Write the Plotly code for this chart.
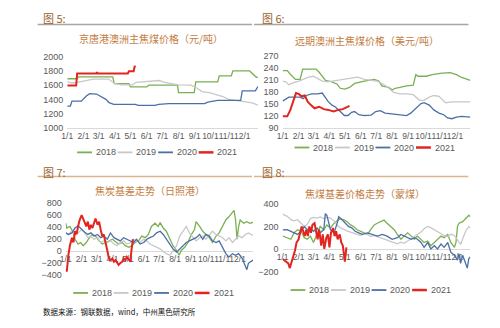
import plotly.graph_objects as go

# ---------------- data ----------------
YEAR = "2020"  # reference year used only to place month/day on a common axis
tick_dates = ["01-01", "02-01", "03-01", "04-01", "05-01", "06-01",
              "07-01", "08-01", "09-01", "10-01", "11-01", "12-01"]
tick_labels = ["1/1", "2/1", "3/1", "4/1", "5/1", "6/1",
               "7/1", "8/1", "9/1", "10/1", "11/1", "12/1"]

series_names = ["2018", "2019", "2020", "2021"]
series_colors = ["#7aaf52", "#c8c8c8", "#4c6fa6", "#e3241f"]
series_widths = [1.3, 1.3, 1.3, 2.0]

fig_labels = ["图 5:", "图 6:", "图 7:", "图 8:"]
panel_titles = ["京唐港澳洲主焦煤价格（元/吨）", "远期澳洲主焦煤价格（美元/吨）",
                "焦炭基差走势（日照港）", "焦煤基差价格走势（蒙煤）"]
footer_text = "数据来源：钢联数据，wind，中州黑色研究所"

# 图5 京唐港澳洲主焦煤价格
p5_2018 = [("01-01", 1690), ("01-20", 1690), ("01-22", 1715), ("03-28", 1715), ("03-31", 1620),
           ("04-28", 1620), ("05-01", 1575), ("06-01", 1575), ("06-05", 1600), ("07-30", 1600),
           ("08-01", 1495), ("08-31", 1495), ("09-03", 1645), ("10-15", 1645), ("10-18", 1730),
           ("11-10", 1730), ("11-13", 1800), ("12-15", 1800), ("12-28", 1710), ("12-31", 1710)]
p5_2019 = [("01-01", 1650), ("01-10", 1630), ("01-20", 1640), ("02-01", 1660), ("02-10", 1670),
           ("02-20", 1685), ("03-20", 1685), ("04-01", 1620), ("04-15", 1605), ("05-05", 1605),
           ("05-12", 1640), ("05-31", 1650), ("06-10", 1665), ("06-25", 1665), ("07-05", 1640),
           ("07-20", 1615), ("08-01", 1605), ("08-25", 1600), ("09-05", 1560), ("09-15", 1510),
           ("10-01", 1490), ("10-15", 1460), ("10-25", 1440), ("11-05", 1400), ("11-20", 1385),
           ("12-05", 1375), ("12-20", 1350), ("12-31", 1320)]
p5_2020 = [("01-01", 1305), ("01-07", 1305), ("01-10", 1375), ("01-28", 1375), ("02-07", 1450),
           ("02-13", 1480), ("02-26", 1475), ("03-06", 1435), ("03-15", 1400), ("03-21", 1355),
           ("03-30", 1330), ("05-10", 1330), ("05-16", 1315), ("06-17", 1315), ("06-24", 1330),
           ("07-13", 1340), ("09-20", 1340), ("09-26", 1360), ("10-15", 1385), ("11-28", 1385),
           ("12-01", 1520), ("12-26", 1520), ("12-31", 1580)]
p5_2021 = [("01-01", 1595), ("01-18", 1595), ("01-20", 1765), ("02-26", 1765), ("02-27", 1785),
           ("02-28", 1765), ("04-26", 1765), ("04-28", 1795), ("05-07", 1795), ("05-09", 1860),
           ("05-11", 1865)]

# 图6 远期澳洲主焦煤价格
p6_2018 = [("01-01", 232), ("01-10", 232), ("01-16", 223), ("01-26", 210), ("02-04", 210),
           ("02-09", 236), ("03-06", 236), ("03-12", 228), ("03-24", 208), ("04-06", 204),
           ("04-16", 198), ("04-22", 188), ("05-01", 186), ("05-10", 190), ("05-20", 200),
           ("06-08", 206), ("06-27", 210), ("07-06", 206), ("07-12", 194), ("07-25", 190),
           ("08-01", 184), ("08-07", 188), ("08-16", 190), ("08-29", 194), ("09-11", 196),
           ("09-16", 222), ("09-20", 218), ("10-06", 218), ("10-18", 222), ("11-06", 226),
           ("11-22", 227), ("12-04", 222), ("12-14", 215), ("12-31", 208)]
p6_2019 = [("01-01", 206), ("01-07", 204), ("01-13", 197), ("01-22", 202), ("02-02", 206),
           ("02-11", 210), ("02-20", 216), ("03-01", 218), ("03-09", 212), ("03-18", 206),
           ("03-28", 204), ("04-06", 206), ("04-19", 208), ("05-01", 212), ("05-14", 214),
           ("05-26", 216), ("06-08", 210), ("06-21", 208), ("07-03", 206), ("07-12", 200),
           ("07-22", 192), ("08-04", 178), ("08-16", 174), ("08-29", 174), ("09-11", 172),
           ("09-23", 158), ("10-02", 158), ("10-12", 166), ("10-21", 170), ("10-31", 168),
           ("11-13", 152), ("11-25", 154), ("12-07", 154), ("12-31", 154)]
p6_2020 = [("01-01", 156), ("01-07", 160), ("01-13", 166), ("01-26", 166), ("02-04", 166),
           ("02-10", 162), ("02-16", 170), ("02-26", 174), ("03-09", 174), ("03-18", 176),
           ("03-24", 166), ("03-30", 154), ("04-06", 146), ("04-12", 142), ("04-19", 134),
           ("04-25", 126), ("04-30", 120), ("05-07", 120), ("05-14", 128), ("05-20", 130),
           ("05-28", 122), ("06-08", 120), ("06-21", 121), ("06-30", 130), ("07-09", 132),
           ("07-18", 126), ("08-04", 124), ("08-16", 122), ("08-29", 120), ("09-06", 126),
           ("09-16", 138), ("09-26", 150), ("10-02", 152), ("10-12", 146), ("10-21", 134),
           ("10-31", 126), ("11-09", 122), ("11-17", 114), ("11-25", 112), ("12-04", 116),
           ("12-14", 118), ("12-31", 116)]
p6_2021 = [("01-01", 118), ("01-10", 118), ("01-16", 134), ("01-22", 158), ("01-27", 176),
           ("02-01", 174), ("02-07", 168), ("02-13", 170), ("02-19", 154), ("02-25", 146),
           ("03-03", 138), ("03-12", 142), ("03-21", 136), ("03-30", 134), ("04-09", 130),
           ("04-18", 134), ("04-27", 136), ("05-07", 142), ("05-10", 144)]

# 图7 焦炭基差走势（日照港）
p7_2018 = [("01-01", 453), ("01-03", 373), ("01-09", 400), ("01-16", 293), ("01-19", 187),
           ("01-25", 107), ("01-30", 133), ("02-04", 80), ("02-10", 133), ("02-16", 213),
           ("02-22", 267), ("02-28", 240), ("03-06", 160), ("03-12", 107), ("03-19", 133),
           ("03-25", 160), ("04-01", 187), ("04-07", 144), ("04-13", 107), ("04-20", 133),
           ("04-26", 80), ("05-03", 53), ("05-09", 80), ("05-15", 133), ("05-22", 160),
           ("05-28", 240), ("06-04", 213), ("06-10", 267), ("06-16", 400), ("06-23", 453),
           ("06-29", 400), ("07-03", 464), ("07-09", 373), ("07-15", 320), ("07-22", 187),
           ("07-28", 80), ("08-04", 0), ("08-09", -80), ("08-13", 0), ("08-20", 53),
           ("08-26", 133), ("09-02", 267), ("09-08", 347), ("09-11", 480), ("09-18", 400),
           ("09-24", 320), ("09-30", 267), ("10-07", 213), ("10-13", 133), ("10-20", 240),
           ("10-26", 293), ("11-02", 400), ("11-08", 507), ("11-14", 560), ("11-21", 640),
           ("11-24", 667), ("11-27", 507), ("11-30", 187), ("12-03", 400), ("12-06", 507),
           ("12-13", 453), ("12-19", 480), ("12-25", 453), ("12-31", 470)]
p7_2019 = [("01-01", 293), ("01-06", 267), ("01-13", 320), ("01-19", 267), ("01-25", 293),
           ("02-01", 347), ("02-07", 293), ("02-13", 213), ("02-19", 240), ("02-25", 187),
           ("03-03", 213), ("03-09", 133), ("03-15", 160), ("03-22", 133), ("03-28", 160),
           ("04-04", 107), ("04-10", 80), ("04-16", 133), ("04-23", 160), ("04-29", 107),
           ("05-06", 133), ("05-12", 187), ("05-18", 160), ("05-25", 133), ("06-01", 187),
           ("06-07", 160), ("06-13", 107), ("06-20", 80), ("06-26", 53), ("07-03", 27),
           ("07-09", -16), ("07-15", -53), ("07-22", -80), ("07-28", 0), ("08-04", 80),
           ("08-10", 240), ("08-16", 320), ("08-23", 400), ("08-29", 293), ("09-05", 213),
           ("09-11", 160), ("09-18", 213), ("09-24", 240), ("09-30", 187), ("10-07", 267),
           ("10-13", 320), ("10-20", 267), ("10-26", 240), ("11-02", 213), ("11-08", 160),
           ("11-14", 213), ("11-21", 133), ("11-27", 187), ("12-03", 240), ("12-10", 213),
           ("12-16", 267), ("12-22", 293), ("12-31", 250)]
p7_2020 = [("01-01", 293), ("01-06", 267), ("01-13", 293), ("01-19", 373), ("01-25", 410),
           ("02-01", 347), ("02-07", 304), ("02-13", 267), ("02-19", 293), ("02-25", 240),
           ("03-03", 267), ("03-09", 213), ("03-15", 240), ("03-22", 187), ("03-28", 293),
           ("04-04", 213), ("04-10", 187), ("04-16", 160), ("04-23", 213), ("04-29", 187),
           ("05-06", 160), ("05-12", 133), ("05-18", 187), ("05-25", 107), ("06-01", 133),
           ("06-07", 187), ("06-13", 213), ("06-20", 240), ("06-26", 293), ("07-03", 320),
           ("07-09", 267), ("07-15", 187), ("07-22", 107), ("07-28", 27), ("08-04", -27),
           ("08-10", 27), ("08-16", 80), ("08-23", 133), ("08-29", 160), ("09-05", 187),
           ("09-11", 213), ("09-18", 267), ("09-24", 187), ("09-30", 267), ("10-07", 240),
           ("10-13", 160), ("10-20", 133), ("10-26", 160), ("11-02", 53), ("11-08", -53),
           ("11-14", -107), ("11-21", -53), ("11-27", -80), ("12-03", -53), ("12-10", -133),
           ("12-13", -187), ("12-19", -320), ("12-22", -213), ("12-31", -160)]
p7_2021 = [("01-01", -320), ("01-03", -347), ("01-06", -80), ("01-09", 80), ("01-13", 213),
           ("01-16", 133), ("01-19", 320), ("01-22", 267), ("01-25", 400), ("01-28", 507),
           ("02-01", 587), ("02-04", 533), ("02-07", 453), ("02-10", 400), ("02-13", 480),
           ("02-16", 347), ("02-19", 427), ("02-22", 373), ("02-25", 453), ("02-28", 533),
           ("03-03", 427), ("03-06", 480), ("03-09", 347), ("03-12", 240), ("03-15", 267),
           ("03-19", 133), ("03-22", 0), ("03-25", -133), ("03-28", -160), ("04-01", -133),
           ("04-04", -187), ("04-07", -160), ("04-10", -213), ("04-13", -240), ("04-16", -213),
           ("04-20", -187), ("04-23", -133), ("04-26", -160), ("04-29", -107), ("05-03", -160),
           ("05-06", -187), ("05-08", 0), ("05-11", 187)]

# 图8 焦煤基差价格走势（蒙煤）
p8_2018 = [("01-01", 115), ("01-10", 100), ("01-17", 86), ("01-23", 143), ("01-30", 171),
           ("02-06", 157), ("02-12", 100), ("02-18", 86), ("02-24", 114), ("03-01", 57),
           ("03-08", 143), ("03-14", 200), ("03-21", 171), ("03-27", 214), ("04-03", 186),
           ("04-10", 229), ("04-16", 250), ("04-22", 270), ("04-29", 260), ("05-05", 243),
           ("05-12", 214), ("05-18", 200), ("05-25", 171), ("06-01", 157), ("06-07", 143),
           ("06-14", 129), ("06-20", 171), ("06-27", 214), ("07-03", 229), ("07-09", 243),
           ("07-16", 257), ("07-22", 229), ("07-29", 200), ("08-05", 171), ("08-11", 129),
           ("08-18", 86), ("08-24", 114), ("08-31", 143), ("09-07", 114), ("09-13", 86),
           ("09-19", 114), ("09-26", 86), ("10-02", 57), ("10-09", 71), ("10-15", 29),
           ("10-22", 57), ("10-28", 86), ("11-04", 114), ("11-10", 100), ("11-17", 129),
           ("11-23", 57), ("11-30", 14), ("12-03", 57), ("12-06", 200), ("12-09", 229),
           ("12-16", 243), ("12-22", 271), ("12-28", 300), ("12-31", 286)]
p8_2019 = [("01-01", 310), ("01-10", 290), ("01-17", 260), ("01-23", 250), ("01-30", 260),
           ("02-06", 230), ("02-12", 200), ("02-18", 220), ("02-24", 270), ("03-01", 280),
           ("03-08", 275), ("03-14", 285), ("03-21", 270), ("03-27", 280), ("04-03", 275),
           ("04-10", 250), ("04-16", 210), ("04-22", 190), ("04-29", 170), ("05-05", 160),
           ("05-12", 150), ("05-18", 140), ("05-25", 130), ("06-01", 120), ("06-07", 140),
           ("06-14", 130), ("06-20", 110), ("06-27", 120), ("07-03", 110), ("07-09", 100),
           ("07-16", 90), ("07-22", 80), ("07-29", 70), ("08-05", 60), ("08-11", 45),
           ("08-18", 60), ("08-24", 50), ("08-31", 70), ("09-07", 90), ("09-13", 110),
           ("09-19", 130), ("09-26", 150), ("10-02", 180), ("10-09", 200), ("10-15", 190),
           ("10-22", 170), ("10-28", 160), ("11-04", 140), ("11-10", 120), ("11-17", 110),
           ("11-23", 130), ("11-30", 120), ("12-06", 80), ("12-12", 40), ("12-16", 90),
           ("12-22", 160), ("12-28", 200), ("12-31", 185)]
p8_2020 = [("01-01", 170), ("01-10", 171), ("01-17", 157), ("01-23", 143), ("01-30", 129),
           ("02-06", 157), ("02-12", 200), ("02-18", 171), ("02-24", 186), ("03-01", 157),
           ("03-08", 186), ("03-14", 143), ("03-21", 171), ("03-24", 314), ("03-27", 300),
           ("04-03", 171), ("04-10", 143), ("04-16", 229), ("04-19", 286), ("04-26", 257),
           ("05-02", 229), ("05-08", 200), ("05-15", 186), ("05-21", 157), ("05-28", 143),
           ("06-04", 129), ("06-14", 143), ("06-24", 129), ("07-03", 114), ("07-13", 129),
           ("07-22", 114), ("08-01", 86), ("08-11", 100), ("08-18", 129), ("08-24", 114),
           ("08-31", 100), ("09-07", 86), ("09-13", 100), ("09-19", 86), ("09-26", 57),
           ("10-02", 14), ("10-09", 57), ("10-15", 0), ("10-22", 29), ("10-28", 0),
           ("11-04", 43), ("11-10", 14), ("11-17", 57), ("11-23", -29), ("11-30", -57),
           ("12-06", -100), ("12-09", -43), ("12-12", -129), ("12-16", -57), ("12-22", -143),
           ("12-25", -171), ("12-28", -86), ("12-31", -71)]
p8_2021 = [("01-01", -90), ("01-12", -129), ("01-15", -171), ("01-18", -129), ("01-21", -86),
           ("01-25", -14), ("01-28", 57), ("02-01", 86), ("02-04", 143), ("02-07", 200),
           ("02-10", 157), ("02-13", 114), ("02-16", 171), ("02-19", 114), ("02-22", 200),
           ("02-25", 143), ("02-28", 214), ("03-03", 229), ("03-06", 157), ("03-09", 86),
           ("03-12", 171), ("03-16", 29), ("03-19", 129), ("03-22", 0), ("03-26", 100),
           ("03-29", 129), ("04-01", 14), ("04-04", 143), ("04-08", 186), ("04-11", 114),
           ("04-14", 157), ("04-17", 86), ("04-21", 129), ("04-24", 57), ("04-27", 29),
           ("05-01", -114), ("05-04", 14)]

panel_series = [
    [p5_2018, p5_2019, p5_2020, p5_2021],
    [p6_2018, p6_2019, p6_2020, p6_2021],
    [p7_2018, p7_2019, p7_2020, p7_2021],
    [p8_2018, p8_2019, p8_2020, p8_2021],
]
y_ranges = [[1000, 2000], [90, 270], [-400, 800], [-200, 400]]
y_dticks = [200, 30, 200, 200]

# ---------------- layout helpers (pixel -> paper) ----------------
W, H = 500, 328
def fx(px):
    return px / W
def fy(py):
    return 1 - py / H

# plot boxes in pixels: (left, right, top, bottom)
boxes = [(62, 255, 53, 127), (280, 470, 51.7, 126.7),
         (60.5, 250, 203.3, 278.3), (280, 470, 205, 275)]
header_pos = [(35, 13), (257, 13), (35, 172), (257, 172)]
title_pos = [(147, 35), (365, 37), (146, 191), (363, 194)]
legend_pos = [(72, 152), (292, 147), (68, 297), (288, 294)]
rule_lines = [(32, 249, 20, "#aaa59f"), (251, 468, 20, "#aaa59f"),
              (32, 249, 177, "#d9b590"), (251, 468, 177, "#d9b590")]

NUM_FONT = "Liberation Sans, Arial, sans-serif"
CJK_FONT = "Noto Sans CJK SC, sans-serif"

fig = go.Figure()
for i, series in enumerate(panel_series):
    xa = "x" if i == 0 else f"x{i+1}"
    ya = "y" if i == 0 else f"y{i+1}"
    for j, data in enumerate(series):
        fig.add_trace(go.Scatter(
            x=[f"{YEAR}-{d}" for d, _ in data], y=[v for _, v in data],
            mode="lines", name=series_names[j], showlegend=False,
            line=dict(color=series_colors[j], width=series_widths[j]),
            xaxis=xa, yaxis=ya, hoverinfo="skip"))

layout = dict(width=W, height=H, margin=dict(l=0, r=0, t=0, b=0),
              paper_bgcolor="white", plot_bgcolor="white", showlegend=False)
shapes, annotations = [], []
for i, (l, r, t, b) in enumerate(boxes):
    sx = "xaxis" if i == 0 else f"xaxis{i+1}"
    sy = "yaxis" if i == 0 else f"yaxis{i+1}"
    ya_ref = "y" if i == 0 else f"y{i+1}"
    xa_ref = "x" if i == 0 else f"x{i+1}"
    ylo, yhi = y_ranges[i]
    pad = (yhi - ylo) * 0.004
    xdict = dict(domain=[fx(l), fx(r)], type="date",
                 range=[f"{YEAR}-01-01", f"{YEAR}-12-31"],
                 tickvals=[f"{YEAR}-{d}" for d in tick_dates], ticktext=tick_labels,
                 tickangle=0,
                 showgrid=False, zeroline=False, showline=True, linecolor="#d9d9d9",
                 linewidth=1, ticks="", tickfont=dict(family=NUM_FONT, size=8.5, color="#595959"),
                 layer="below traces", fixedrange=True)
    if i < 2:
        xdict["anchor"] = ya_ref
    else:
        zero_frac = (0 - ylo) / (yhi - ylo)
        xdict["anchor"] = "free"
        xdict["position"] = fy(b) + zero_frac * (fy(t) - fy(b))
    layout[sx] = xdict
    layout[sy] = dict(domain=[fy(b), fy(t)], range=[ylo - pad, yhi + pad],
                      tickmode="linear", tick0=ylo, dtick=y_dticks[i],
                      anchor=xa_ref, showgrid=False, zeroline=False, showline=False,
                      ticks="", ticklabelstandoff=3,
                      tickfont=dict(family=NUM_FONT, size=9, color="#595959"),
                      fixedrange=True)

    # header label, title
    hx, hy = header_pos[i]
    annotations.append(dict(text=fig_labels[i], x=fx(hx), y=fy(hy), xref="paper", yref="paper",
                            xanchor="left", yanchor="middle", showarrow=False,
                            font=dict(family=CJK_FONT, size=11, color="#9a5f2c")))
    tx, ty = title_pos[i]
    annotations.append(dict(text=panel_titles[i], x=fx(tx), y=fy(ty), xref="paper", yref="paper",
                            xanchor="center", yanchor="middle", showarrow=False,
                            font=dict(family=CJK_FONT, size=10, color="#c47d42")))
    # custom legend
    lx, ly = legend_pos[i]
    for j, name in enumerate(series_names):
        x0 = lx + j * 41
        shapes.append(dict(type="line", xref="paper", yref="paper",
                           x0=fx(x0), x1=fx(x0 + 15), y0=fy(ly), y1=fy(ly),
                           line=dict(color=series_colors[j], width=series_widths[j] + 0.5)))
        annotations.append(dict(text=name, x=fx(x0 + 17), y=fy(ly), xref="paper", yref="paper",
                                xanchor="left", yanchor="middle", showarrow=False,
                                font=dict(family=NUM_FONT, size=9, color="#595959")))

for x0, x1, yy, col in rule_lines:
    shapes.append(dict(type="line", xref="paper", yref="paper", x0=fx(x0), x1=fx(x1),
                       y0=fy(yy), y1=fy(yy), line=dict(color=col, width=1.5)))

annotations.append(dict(text=footer_text, x=fx(35), y=fy(316), xref="paper", yref="paper",
                        xanchor="left", yanchor="middle", showarrow=False,
                        font=dict(family=CJK_FONT, size=7.5, color="#111111")))

layout["shapes"] = shapes
layout["annotations"] = annotations
fig.update_layout(**layout)
fig.write_html("out.html", config={"displayModeBar": False, "staticPlot": True})
